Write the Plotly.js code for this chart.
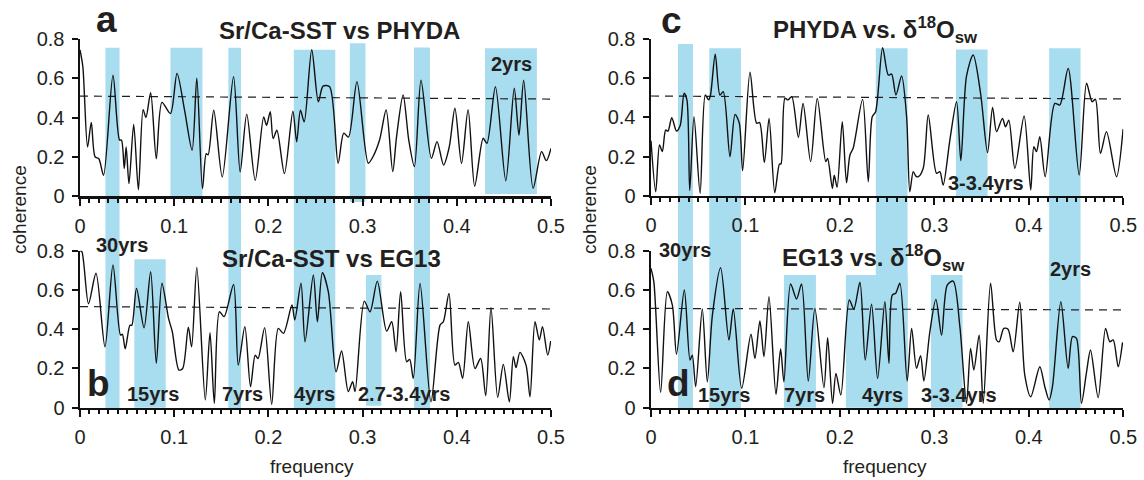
<!DOCTYPE html>
<html>
<head>
<meta charset="utf-8">
<script src="https://cdn.plot.ly/plotly-3.0.1.min.js"></script>
<style>
  html, body { margin: 0; padding: 0; background: #fff; }
  #plot { width: 1144px; height: 480px; }
</style>
</head>
<body>
<div id="plot"></div>
<script>
// coherence curves (frequency in cycles/yr)
var aFreq = [0,.003,.008,.012,.016,.020,.025,.035,.042,.044,.047,.049,.052,.057,.062,.067,.070,.075,.081,.087,.096,.103,.111,.119,.124,.130,.134,.136,.142,.151,.163,.170,.177,.186,.195,.198,.202,.205,.209,.217,.226,.230,.234,.238,.246,.253,.258,.265,.274,.280,.285,.294,.306,.311,.318,.325,.332,.336,.343,.349,.355,.362,.373,.379,.386,.392,.398,.405,.412,.419,.428,.432,.441,.452,.461,.466,.471,.481,.490,.495,.5];
var aCoh  = [.745,.66,.25,.375,.20,.19,.105,.615,.285,.285,.14,.25,.063,.365,.032,.44,.40,.526,.19,.477,.42,.625,.437,.233,.60,.037,.216,.21,.437,.097,.608,.123,.417,.08,.403,.36,.43,.293,.335,.114,.432,.276,.437,.378,.745,.48,.56,.557,.167,.32,.30,.583,.167,.20,.285,.438,.124,.30,.515,.285,.15,.59,.192,.277,.158,.25,.447,.166,.44,.05,.294,.268,.557,.078,.549,.31,.59,.04,.226,.18,.243];

var bFreq = [0,.002,.009,.017,.0265,.035,.043,.045,.048,.053,.055,.060,.068,.075,.081,.087,.094,.098,.105,.109,.115,.1185,.124,.133,.138,.1426,.148,.153,.163,.168,.175,.181,.186,.189,.196,.2035,.2105,.216,.225,.228,.2346,.2389,.2477,.252,.2573,.2636,.2718,.2777,.2848,.2894,.292,.3018,.3079,.3156,.3255,.3309,.3355,.3404,.3468,.350,.3538,.361,.3726,.3822,.3857,.3917,.398,.4016,.4062,.4122,.4193,.4253,.4307,.4363,.4434,.4494,.4558,.46,.4629,.467,.4735,.4777,.483,.4876,.491,.4965,.4997];
var bCoh  = [.80,.795,.53,.685,.31,.727,.37,.374,.30,.42,.42,.608,.407,.693,.226,.634,.455,.387,.192,.20,.41,.31,.715,.04,.382,.022,.489,.464,.628,.217,.413,.107,.268,.25,.408,.017,.404,.379,.523,.447,.635,.336,.676,.438,.688,.591,.183,.289,.082,.133,.082,.543,.489,.645,.39,.438,.285,.591,.234,.246,.149,.633,.03,.421,.438,.582,.217,.231,.15,.438,.20,.251,.061,.511,.053,.221,.03,.26,.204,.282,.217,.056,.438,.345,.413,.268,.34];

var cFreq = [0,.005,.009,.012,.0155,.018,.022,.027,.031,.035,.038,.041,.0455,.052,.0575,.061,.063,.068,.073,.0765,.0836,.089,.0935,.097,.1048,.1118,.115,.12,.125,.131,.136,.1376,.1418,.145,.149,.156,.161,.169,.176,.185,.187,.192,.194,.197,.2025,.207,.2106,.214,.224,.230,.2342,.2378,.2452,.2512,.2547,.2593,.2653,.2706,.274,.2776,.2804,.283,.2882,.2935,.3023,.3058,.3093,.3164,.3235,.328,.334,.3411,.3489,.3563,.3616,.3658,.3721,.3753,.3788,.3852,.395,.402,.4053,.4081,.4116,.4173,.4275,.4328,.4416,.4533,.4611,.467,.4705,.4758,.4822,.4928,.4998];
var cCoh  = [.28,.02,.259,.225,.335,.33,.398,.33,.36,.523,.49,.026,.403,.012,.514,.489,.514,.722,.514,.531,.199,.415,.37,.128,.63,.37,.373,.169,.395,.015,.162,.162,.497,.489,.506,.298,.471,.174,.497,.174,.19,.037,.105,.043,.378,.066,.208,.242,.492,.071,.403,.429,.756,.616,.621,.514,.611,.403,.02,.123,.10,.097,.14,.412,.114,.123,.054,.284,.48,.179,.611,.718,.523,.22,.451,.327,.395,.352,.386,.14,.407,.029,.25,.225,.301,.097,.471,.463,.65,.106,.574,.48,.492,.216,.327,.097,.34];

var dFreq = [0,.003,.0102,.0173,.0226,.027,.0353,.0413,.0437,.0473,.0543,.0596,.065,.0737,.0825,.0871,.096,.1058,.11,.1153,.1196,.1249,.1323,.1372,.1407,.1478,.1541,.1594,.1665,.1735,.1831,.187,.1922,.1958,.201,.2099,.2148,.2212,.2268,.2335,.2399,.2476,.2519,.2554,.259,.2635,.2712,.2759,.2811,.2854,.2889,.2952,.3016,.3076,.3136,.3199,.327,.334,.3383,.3418,.3474,.3517,.3595,.3658,.3686,.3735,.378,.3834,.3904,.3957,.402,.4116,.4169,.4215,.425,.4339,.4416,.4462,.4504,.4557,.4611,.4653,.4734,.4812,.4857,.4893,.4946,.4992];
var dCoh  = [.71,.642,.078,.591,.523,.272,.60,.243,.268,.107,.503,.132,.472,.713,.345,.503,.099,.374,.251,.442,.26,.566,.068,.299,.132,.63,.554,.63,.136,.506,.102,.357,.022,.175,.065,.549,.503,.639,.243,.528,.149,.54,.226,.574,.583,.634,.136,.404,.201,.265,.136,.387,.552,.37,.625,.645,.413,.022,.302,.192,.37,.022,.634,.345,.336,.404,.40,.285,.537,.166,.056,.209,.107,.039,.107,.54,.20,.362,.353,.022,.183,.294,.051,.404,.336,.345,.209,.333];

// significance level (dashed), value at f=0 and f=0.5
var aSig = [.509, .494];
var bSig = [.515, .503];
var cSig = [.509, .494];
var dSig = [.506, .498];

// highlighted bands: [f0, f1, top panel, top value, bottom panel, bottom value]
var leftBands = [
  [.027, .042, 'a', .755, 'b', -.01],
  [.096, .130, 'a', .755, 'a', 0],
  [.1575, .171, 'a', .755, 'b', -.01],
  [.227, .271, 'a', .745, 'b', -.01],
  [.2865, .303, 'a', .778, 'a', -.03],
  [.3546, .3715, 'a', .757, 'b', -.01],
  [.430, .485, 'a', .753, 'a', .01],
  [.0577, .091, 'b', .757, 'b', 0],
  [.3036, .320, 'b', .676, 'b', .01]
];
var rightBands = [
  [.0286, .0444, 'c', .775, 'd', -.01],
  [.0617, .0952, 'c', .753, 'd', -.01],
  [.238, .2716, 'c', .753, 'd', -.01],
  [.3228, .3563, 'c', .747, 'c', -.005],
  [.4215, .4547, 'c', .753, 'd', -.01],
  [.1407, .1746, 'd', .676, 'd', 0],
  [.2063, .2716, 'd', .676, 'd', 0],
  [.2963, .3298, 'd', .676, 'd', 0]
];

var W = 1144, H = 480;
function px(x) { return x / W; }
function py(y) { return 1 - y / H; }

var yDom = {
  a: [py(196), py(39)],
  b: [py(407.7), py(250.7)],
  c: [py(195.7), py(39)],
  d: [py(407.7), py(250.7)]
};
function yPaper(panel, v) {
  var d = yDom[panel];
  return d[0] + v / 0.8 * (d[1] - d[0]);
}

var panels = [
  {key: 'a', f: aFreq, c: aCoh, sig: aSig, xa: 'x',  ya: 'y'},
  {key: 'b', f: bFreq, c: bCoh, sig: bSig, xa: 'x2', ya: 'y2'},
  {key: 'c', f: cFreq, c: cCoh, sig: cSig, xa: 'x3', ya: 'y3'},
  {key: 'd', f: dFreq, c: dCoh, sig: dSig, xa: 'x4', ya: 'y4'}
];

var traces = [];
panels.forEach(function(p) {
  traces.push({
    x: [0, 0.5], y: p.sig, xaxis: p.xa, yaxis: p.ya,
    mode: 'lines', type: 'scatter', hoverinfo: 'skip',
    line: {color: '#231f20', width: 1.2, dash: '8px,6px'}
  });
  traces.push({
    x: p.f, y: p.c, xaxis: p.xa, yaxis: p.ya,
    mode: 'lines', type: 'scatter',
    line: {color: '#111', width: 1.4, shape: 'spline', smoothing: 0.8}
  });
});

var blue = '#a8dcef';
var shapes = [];
function addBands(list, xref) {
  list.forEach(function(b) {
    shapes.push({
      type: 'rect', xref: xref, yref: 'paper', layer: 'below',
      x0: b[0], x1: b[1],
      y0: yPaper(b[4], b[5]), y1: yPaper(b[2], b[3]),
      fillcolor: blue, line: {width: 0}
    });
  });
}
addBands(leftBands, 'x');
addBands(rightBands, 'x3');

var FONT = 'Liberation Sans, Arial, Helvetica, sans-serif';
function xAxis(dom, anchor) {
  return {
    domain: dom, anchor: anchor, range: [0, 0.5],
    dtick: 0.1, tick0: 0, ticks: 'outside', ticklen: 7, tickwidth: 2, tickcolor: '#111',
    showline: true, linewidth: 2.5, linecolor: '#111',
    showgrid: false, zeroline: false, ticklabelstandoff: 3,
    tickfont: {family: FONT, size: 20, color: '#231f20'},
    minor: {dtick: 0.01, tick0: 0, ticks: 'outside', ticklen: 4, tickwidth: 2, tickcolor: '#111', showgrid: false}
  };
}
function yAxis(dom, anchor) {
  return {
    domain: dom, anchor: anchor, range: [0, 0.8],
    dtick: 0.2, tick0: 0, ticks: 'outside', ticklen: 6, tickwidth: 2, tickcolor: '#111',
    showline: true, linewidth: 2.5, linecolor: '#111',
    showgrid: false, zeroline: false, ticklabelstandoff: 3,
    tickfont: {family: FONT, size: 20, color: '#231f20'}
  };
}
var lx = [px(80), px(551)], rx = [px(651), px(1123.3)];

function txt(x, y, s, size, extra) {
  var a = {
    xref: 'paper', yref: 'paper', x: px(x), y: py(y), text: s, showarrow: false,
    xanchor: 'center', yanchor: 'middle',
    font: {family: FONT, size: size, color: '#231f20'}
  };
  for (var k in extra) a[k] = extra[k];
  return a;
}
var annotations = [
  txt(106, 20, '<b>a</b>', 37),
  txt(98, 383, '<b>b</b>', 37),
  txt(671, 21, '<b>c</b>', 37),
  txt(678, 383, '<b>d</b>', 37),
  txt(339, 30, '<b>Sr/Ca-SST vs PHYDA</b>', 24),
  txt(331, 258, '<b>Sr/Ca-SST vs EG13</b>', 24),
  txt(875, 30, '<b>PHYDA vs. δ<sup>18</sup>O<sub>sw</sub></b>', 24),
  txt(873, 258, '<b>EG13 vs. δ<sup>18</sup>O<sub>sw</sub></b>', 24),
  txt(511, 64, '<b>2yrs</b>', 20),
  txt(122, 245, '<b>30yrs</b>', 20),
  txt(153, 394, '<b>15yrs</b>', 20),
  txt(242, 394, '<b>7yrs</b>', 20),
  txt(314, 394, '<b>4yrs</b>', 20),
  txt(404, 394, '<b>2.7-3.4yrs</b>', 20),
  txt(986, 183, '<b>3-3.4yrs</b>', 20),
  txt(685, 250, '<b>30yrs</b>', 20),
  txt(724, 395, '<b>15yrs</b>', 20),
  txt(804, 395, '<b>7yrs</b>', 20),
  txt(882, 395, '<b>4yrs</b>', 20),
  txt(959, 395, '<b>3-3.4yrs</b>', 20),
  txt(1070, 269, '<b>2yrs</b>', 20),
  txt(312, 466, 'frequency', 19),
  txt(885, 466, 'frequency', 19),
  txt(19, 210, 'coherence', 19, {textangle: -90}),
  txt(589, 210, 'coherence', 19, {textangle: -90})
];

var layout = {
  width: W, height: H,
  margin: {l: 0, r: 0, t: 0, b: 0},
  paper_bgcolor: '#fff', plot_bgcolor: 'rgba(0,0,0,0)',
  showlegend: false,
  font: {family: FONT, color: '#231f20'},
  xaxis: xAxis(lx, 'y'), yaxis: yAxis(yDom.a, 'x'),
  xaxis2: xAxis(lx, 'y2'), yaxis2: yAxis(yDom.b, 'x2'),
  xaxis3: xAxis(rx, 'y3'), yaxis3: yAxis(yDom.c, 'x3'),
  xaxis4: xAxis(rx, 'y4'), yaxis4: yAxis(yDom.d, 'x4'),
  shapes: shapes,
  annotations: annotations
};

Plotly.newPlot('plot', traces, layout, {staticPlot: true});
</script>
</body>
</html>
